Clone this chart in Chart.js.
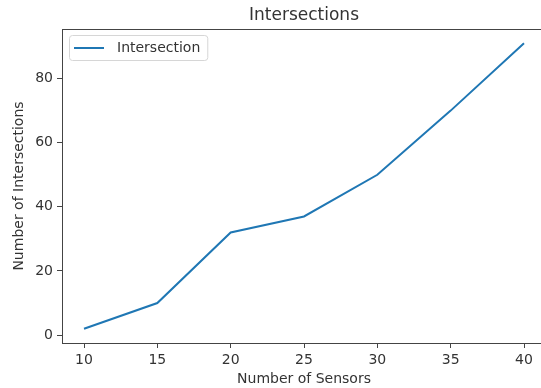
<!DOCTYPE html>
<html>
<head>
<meta charset="utf-8">
<script src="https://cdn.jsdelivr.net/npm/chart.js@4/dist/chart.umd.min.js"></script>
<style>
  html, body { margin: 0; padding: 0; background: #fff; overflow: hidden; }
</style>
</head>
<body>
<canvas id="chart" width="560" height="388"></canvas>
<script>
const sensors = [10, 15, 20, 25, 30, 35, 40];
const intersections = [2, 10, 32, 37, 50, 70, 91];
const xTicks = [10, 15, 20, 25, 30, 35, 40];
const yTicks = [0, 20, 40, 60, 80];

const LINE_COLOR = '#1f77b4';
const TEXT_COLOR = '#333333';
const SPINE_COLOR = '#444444';
const FONT = 'DejaVu Sans';
const LEGEND_PAD = 12;

// matplotlib style 5% autoscale margins
function padRange(vals) {
  const lo = Math.min(...vals);
  const hi = Math.max(...vals);
  const m = (hi - lo) * 0.05;
  return [lo - m, hi + m];
}
const [xMin, xMax] = padRange(sensors);
const [yMin, yMax] = padRange(intersections);

// legend swatch: 30px line inside a 36px wide box, leaves a gap before the text
function lineSwatch() {
  const c = document.createElement('canvas');
  c.width = 36;
  c.height = 2;
  const g = c.getContext('2d');
  g.fillStyle = LINE_COLOR;
  g.fillRect(0, 0, 30, 2);
  return c;
}

const frame = {
  id: 'frame',
  beforeDraw(chart) {
    // chartArea legend lands at the canvas top, move it into the plot
    const lg = chart.legend;
    const a = chart.chartArea;
    lg.left = a.left;
    lg.top = a.top;
    lg.right = a.left + lg.width;
    lg.bottom = a.top + lg.height;
    lg.adjustHitBoxes();
  },
  afterDraw(chart) {
    const { ctx, chartArea: a } = chart;
    ctx.save();
    ctx.strokeStyle = SPINE_COLOR;
    ctx.lineWidth = 1;
    ctx.beginPath();
    ctx.moveTo(a.left, a.top + 0.5);
    ctx.lineTo(a.right, a.top + 0.5);
    ctx.stroke();
    const lg = chart.legend;
    const hb = lg.legendHitBoxes[0];
    if (hb) {
      const x0 = lg.left + LEGEND_PAD - 5;
      ctx.strokeStyle = '#d6d6d6';
      ctx.beginPath();
      ctx.roundRect(Math.round(x0) + 0.5, hb.top - 5.5, hb.width + 12, hb.height + 11, 3);
      ctx.stroke();
    }
    ctx.restore();
  },
};

new Chart(document.getElementById('chart'), {
  type: 'line',
  data: {
    datasets: [{
      label: 'Intersection',
      data: sensors.map((x, i) => ({ x, y: intersections[i] })),
      borderColor: LINE_COLOR,
      backgroundColor: LINE_COLOR,
      borderWidth: 2,
      pointRadius: 0,
      tension: 0,
    }],
  },
  options: {
    responsive: false,
    animation: false,
    devicePixelRatio: 1,
    layout: { padding: { left: 0, right: 14, top: 0, bottom: 0 } },
    scales: {
      x: {
        type: 'linear',
        min: xMin,
        max: xMax,
        afterBuildTicks: (s) => { s.ticks = xTicks.map((v) => ({ value: v })); },
        afterFit: (s) => { s.height = 45; },
        ticks: { color: TEXT_COLOR, font: { family: FONT, size: 14 }, padding: 4 },
        grid: { drawOnChartArea: false, drawTicks: true, tickLength: 5, tickColor: SPINE_COLOR },
        border: { display: true, color: SPINE_COLOR },
        title: {
          display: true,
          text: 'Number of Sensors',
          color: TEXT_COLOR,
          font: { family: FONT, size: 14 },
          padding: { top: 0, bottom: 0 },
        },
      },
      y: {
        type: 'linear',
        min: yMin,
        max: yMax,
        afterBuildTicks: (s) => { s.ticks = yTicks.map((v) => ({ value: v })); },
        afterFit: (s) => { s.width = 62; },
        ticks: { color: TEXT_COLOR, font: { family: FONT, size: 14 }, padding: 4 },
        grid: { drawOnChartArea: false, drawTicks: true, tickLength: 5, tickColor: SPINE_COLOR },
        border: { display: true, color: SPINE_COLOR },
        title: {
          display: true,
          text: 'Number of Intersections',
          color: TEXT_COLOR,
          font: { family: FONT, size: 14 },
          padding: { top: 11, bottom: 0 },
        },
      },
    },
    plugins: {
      title: {
        display: true,
        text: 'Intersections',
        color: TEXT_COLOR,
        fullSize: false,
        font: { family: FONT, size: 17, weight: 'normal' },
        padding: { top: 5, bottom: 3.6 },
      },
      legend: {
        position: 'chartArea',
        align: 'start',
        labels: {
          usePointStyle: true,
          pointStyle: lineSwatch(),
          pointStyleWidth: 36,
          color: TEXT_COLOR,
          font: { family: FONT, size: 14 },
          padding: LEGEND_PAD,
        },
      },
      tooltip: { enabled: false },
    },
  },
  plugins: [frame],
});
</script>
</body>
</html>
